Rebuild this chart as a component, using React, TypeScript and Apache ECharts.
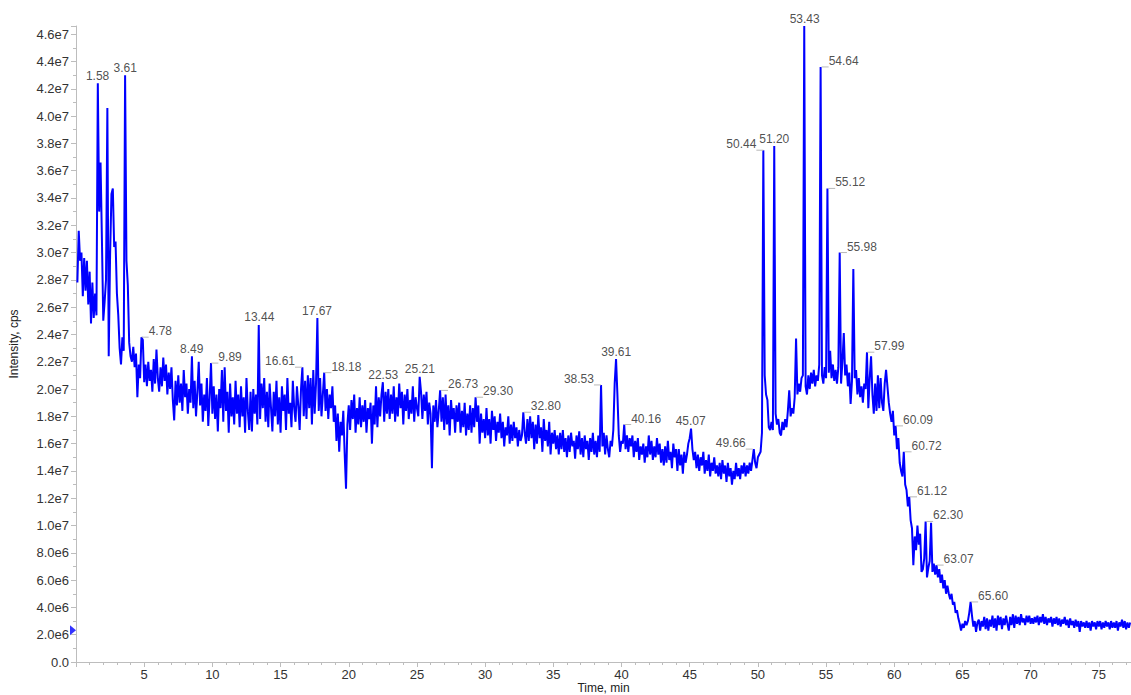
import { useEffect, useRef } from "react";
import * as echarts from "echarts";

// Sampling of the trace (minutes)
const T0 = 0.1;
const DT = 0.1;

// Intensity in units of 1e6 cps, one row per minute (10 samples)
const seg00 = [
  27.8, 31.6, 29.4, 30.0, 26.8, 29.6, 27.2, 29.4, 26.2, 28.6,
  24.8, 27.8, 25.2, 27.0, 25.4, 42.4, 33.0, 36.6, 31.0, 25.0,
  26.4, 28.0, 40.6, 22.4, 29.8, 34.3, 34.7, 30.4, 30.8, 27.0,
  25.4, 23.0, 21.8, 23.8, 22.8, 43.0, 29.4, 27.6, 23.4, 22.4,
  22.0, 23.1, 21.6, 22.6, 19.4, 21.8, 20.8, 23.8, 23.6, 20.5,
  21.8, 20.2, 22.0, 20.6, 21.4, 19.8, 22.2, 20.4, 22.9, 20.8,
  19.8, 21.6, 20.2, 22.3, 20.6, 21.8, 19.6, 21.2, 20.0, 21.6,
  19.2, 17.7, 20.6, 18.8, 21.0, 19.0, 20.4, 18.4, 21.4, 19.4,
  20.4, 18.2, 20.0, 19.0, 22.4, 18.6, 20.6, 18.0, 19.8, 22.0,
  18.8, 20.4, 17.6, 19.6, 18.4, 20.8, 17.3, 19.4, 21.9, 18.2,
];
const seg10 = [
  20.2, 17.8, 19.6, 16.9, 20.0, 18.6, 21.4, 17.6, 21.6, 18.4,
  19.8, 16.8, 20.4, 18.0, 19.4, 17.4, 20.6, 18.2, 19.6, 17.2,
  20.2, 18.0, 19.4, 16.8, 20.8, 18.4, 17.0, 19.8, 16.9, 20.0,
  18.2, 19.6, 17.4, 24.7, 17.8, 20.4, 18.6, 20.8, 17.6, 19.8,
  17.2, 20.4, 18.6, 16.9, 19.8, 18.0, 20.6, 17.4, 19.4, 16.8,
  20.2, 18.4, 19.6, 17.0, 20.8, 18.2, 19.0, 17.2, 20.6, 18.6,
  17.6, 20.2, 18.8, 17.0, 20.0, 21.6, 18.0, 20.6, 17.8, 21.0,
  18.6, 20.8, 17.4, 21.4, 18.2, 20.4, 25.2, 18.4, 20.8, 18.0,
  19.6, 21.2, 18.4, 20.0, 17.8, 19.6, 18.6, 20.2, 17.6, 18.8,
  16.2, 18.2, 15.4, 17.6, 16.6, 18.4, 15.3, 12.7, 17.4, 18.8,
];
const seg20 = [
  17.0, 19.2, 17.8, 19.6, 16.8, 18.6, 17.4, 19.4, 17.2, 18.8,
  17.6, 19.2, 16.8, 18.6, 17.8, 19.0, 16.0, 18.8, 17.4, 20.2,
  17.2, 19.4, 18.0, 19.6, 20.5, 17.6, 19.8, 18.2, 20.0, 17.8,
  19.6, 18.2, 20.2, 17.6, 19.4, 18.0, 20.4, 18.6, 19.8, 17.4,
  19.6, 18.4, 20.0, 17.8, 19.2, 18.2, 20.2, 17.6, 19.4, 18.6,
  18.0, 20.9, 19.8, 17.8, 19.6, 18.4, 19.8, 17.4, 19.0, 18.2,
  14.2, 18.8, 17.6, 19.2, 17.2, 18.4, 19.9, 17.6, 19.4, 17.0,
  19.6, 17.4, 18.8, 16.6, 19.2, 17.8, 18.6, 16.8, 18.8, 17.6,
  19.0, 16.8, 18.4, 17.2, 19.0, 16.6, 18.2, 17.0, 18.8, 16.8,
  18.6, 17.2, 19.4, 17.6, 18.8, 16.0, 18.2, 16.8, 17.8, 16.4,
];
const seg30 = [
  18.6, 16.6, 17.8, 16.0, 18.4, 17.0, 18.0, 16.2, 17.6, 16.8,
  18.2, 16.4, 17.6, 15.8, 17.2, 16.6, 18.0, 16.0, 17.4, 16.2,
  17.6, 16.4, 17.2, 15.8, 17.0, 16.2, 16.6, 18.3, 16.8, 16.0,
  17.8, 16.2, 18.0, 16.4, 17.6, 15.6, 17.4, 16.0, 18.1, 16.4,
  17.2, 15.4, 17.8, 16.2, 17.0, 15.8, 17.6, 15.2, 16.8, 16.0,
  17.0, 15.6, 16.6, 15.2, 16.8, 15.6, 17.0, 15.4, 16.4, 15.0,
  16.6, 15.4, 16.8, 15.8, 16.2, 14.9, 16.6, 15.6, 16.9, 15.2,
  16.4, 15.0, 16.6, 15.6, 16.2, 14.8, 16.4, 15.4, 16.8, 15.2,
  16.2, 15.0, 16.6, 15.4, 20.3, 15.8, 16.8, 15.2, 16.6, 15.6,
  15.0, 16.2, 15.8, 17.0, 20.4, 22.2, 19.6, 16.6, 15.4, 16.2,
];
const seg40 = [
  16.0, 17.4, 15.6, 16.6, 15.4, 16.4, 15.8, 16.6, 15.0, 16.2,
  15.4, 16.4, 14.8, 15.8, 15.2, 16.0, 14.6, 15.8, 15.0, 16.6,
  15.2, 16.2, 14.8, 15.8, 15.0, 16.4, 15.2, 16.0, 14.6, 15.6,
  14.4, 15.8, 14.6, 16.2, 14.8, 15.4, 14.2, 16.0, 15.0, 15.6,
  14.0, 15.6, 14.4, 15.2, 13.8, 15.4, 14.6, 15.2, 16.0, 16.4,
  17.1, 15.6, 14.8, 15.4, 14.2, 15.2, 14.0, 15.0, 14.4, 15.4,
  13.8, 14.8, 14.0, 15.2, 13.6, 14.6, 14.0, 15.0, 13.8, 14.4,
  13.6, 14.6, 13.4, 14.8, 13.8, 14.4, 13.2, 14.6, 13.6, 14.2,
  13.0, 14.0, 13.4, 14.6, 13.6, 14.2, 13.4, 14.4, 13.8, 14.6,
  13.6, 14.4, 13.8, 14.6, 14.0, 14.8, 15.6, 14.6, 14.2, 15.0,
];
const seg50 = [
  15.2, 15.4, 16.8, 37.5, 21.0, 19.6, 19.2, 17.2, 17.0, 17.6,
  17.0, 37.8, 18.2, 17.4, 17.8, 16.8, 16.6, 17.6, 17.0, 17.8,
  17.2, 18.4, 19.9, 18.0, 18.6, 18.2, 19.4, 23.7, 19.6, 20.4,
  19.8, 20.8, 21.0, 46.6, 20.2, 19.6, 21.0, 20.0, 21.2, 20.4,
  21.4, 20.2, 21.0, 20.6, 21.8, 43.6, 21.0, 20.4, 21.6, 20.8,
  34.7, 21.2, 22.8, 20.8, 21.8, 20.6, 21.4, 20.4, 21.6, 30.0,
  20.4, 22.0, 24.1, 21.0, 21.8, 20.2, 21.2, 18.9, 20.6, 28.8,
  20.8, 21.4, 19.6, 20.8, 19.4, 20.2, 19.0, 20.4, 20.0, 22.7,
  18.6, 20.8, 22.4, 19.6, 18.2, 20.4, 18.4, 21.0, 18.6, 20.8,
  19.0, 18.4, 20.4, 21.4, 20.2, 19.0, 18.2, 17.6, 18.4, 16.6,
];
const seg60 = [
  17.3, 15.6, 16.4, 14.6, 14.0, 13.6, 15.4, 13.0, 12.6, 11.4,
  12.1, 10.4, 9.8, 7.1, 9.2, 8.2, 10.0, 8.6, 9.4, 6.6,
  6.8, 7.6, 10.3, 6.2, 6.9, 7.4, 10.2, 6.6, 7.2, 6.4,
  7.1, 6.2, 6.8, 5.8, 6.4, 5.4, 6.0, 5.0, 5.6, 5.0,
  4.6, 5.0, 4.2, 4.4, 3.6, 3.8, 3.2, 2.8, 2.3, 2.8,
  2.5, 3.0, 2.7, 3.0, 3.6, 4.4, 3.4, 2.6, 3.0, 2.2,
  2.9, 3.1, 2.3, 3.0, 2.6, 3.3, 2.4, 3.2, 2.3, 3.1,
  2.6, 3.4, 2.5, 3.2, 2.3, 3.4, 2.7, 3.3, 2.4, 3.2,
  2.7, 3.4, 2.8, 2.3, 3.3, 2.7, 3.5, 2.5, 3.4, 2.8,
  3.3, 2.7, 3.5, 2.9, 3.2, 2.7, 3.4, 2.9, 3.4, 2.8,
];
const seg70 = [
  3.2, 2.8, 3.3, 2.9, 3.4, 2.7, 3.3, 2.9, 3.5, 2.8,
  3.3, 2.7, 3.2, 2.9, 3.3, 2.6, 3.2, 2.8, 3.3, 2.7,
  3.2, 2.6, 3.1, 2.8, 3.3, 2.7, 3.1, 2.5, 3.2, 2.7,
  3.0, 2.5, 3.1, 2.6, 3.0, 2.2, 3.0, 2.6, 2.9, 2.5,
  3.0, 2.5, 2.9, 2.3, 3.0, 2.6, 2.9, 2.4, 3.0, 2.6,
  3.0, 2.4, 2.9, 2.5, 3.0, 2.6, 2.9, 2.4, 3.0, 2.5,
  2.9, 2.5, 3.0, 2.3, 2.9, 2.6, 3.1, 2.5, 3.0, 2.4,
  2.9, 2.5, 2.9,
];

// Annotated peaks: retention-time label and apex intensity (1e6 cps)
const peakLabels = [
  "1.58", "3.61", "4.78", "8.49", "9.89", "13.44", "16.61", "17.67", "18.18",
  "22.53", "25.21", "26.73", "29.30", "32.80", "38.53", "39.61", "40.16",
  "45.07", "49.66", "50.44", "51.20", "53.43", "54.64", "55.12", "55.98",
  "57.99", "60.09", "60.72", "61.12", "62.30", "63.07", "65.60",
];
const peakHeights = [
  42.4, 43.0, 23.8, 22.4, 21.9, 24.7, 21.6, 25.2, 21.2,
  20.5, 20.9, 19.9, 19.4, 18.3, 20.3, 22.2, 17.4,
  17.1, 15.6, 37.5, 37.8, 46.6, 43.6, 34.7, 30.0,
  22.7, 17.3, 15.4, 12.1, 10.3, 7.1, 4.4,
];
const peakSides = [
  "top", "top", "right", "top", "right", "top", "left", "top", "right",
  "top", "top", "right", "right", "right", "left", "top", "right",
  "top", "left", "left", "top", "top", "right", "right", "right",
  "right", "right", "right", "right", "right", "right", "right",
];

// Baseline marker on the intensity axis (1e6 cps)
const baselineMarker = 2.32;

const FONT = '"Liberation Sans", Arial, Helvetica, sans-serif';
const AXIS_GRAY = "#bdbdbd";
const TEXT = "#222222";

function sciLabel(v: number): string {
  if (v === 0) return "0.0";
  const e = Math.floor(Math.log10(v) + 1e-9);
  const m = v / Math.pow(10, e);
  return m.toFixed(1) + "e" + e;
}

export default function App() {
  const ref = useRef<HTMLDivElement | null>(null);

  useEffect(() => {
    if (!ref.current) return;
    const chart = echarts.init(ref.current, undefined, { renderer: "svg" });

    const intensity = [...seg00, ...seg10, ...seg20, ...seg30, ...seg40, ...seg50, ...seg60, ...seg70];
    const trace = intensity.map((v, i) => [Math.round((T0 + i * DT) * 100) / 100, v * 1e6]);

    const labelData = peakLabels.map((lab, i) => {
      const side = peakSides[i];
      return {
        value: [parseFloat(lab), peakHeights[i] * 1e6],
        label: {
          show: true,
          formatter: lab,
          position: side,
          distance: side === "top" ? 1 : 7,
          offset: side === "top" ? [0, 0] : [0, -6],
          color: TEXT,
          fontSize: 12,
          fontFamily: FONT,
          textBorderWidth: 0,
        },
        labelLine: {
          show: side !== "top",
          lineStyle: { color: "#b8b8b8", width: 1 },
        },
      };
    });

    chart.setOption({
      animation: false,
      backgroundColor: "#ffffff",
      grid: {
        left: 76,
        right: -36,
        top: 26,
        bottom: 33,
        containLabel: false,
        outerBoundsMode: "none",
      },
      xAxis: {
        type: "value",
        min: 0,
        max: 80,
        interval: 5,
        name: "Time, min",
        nameLocation: "middle",
        nameGap: 20,
        nameMoveOverlap: false,
        nameTextStyle: {
          color: TEXT,
          fontSize: 12,
          lineHeight: 12,
          fontFamily: FONT,
          padding: [0, 36, 0, 0],
        },
        axisLine: { show: true, onZero: false, lineStyle: { color: AXIS_GRAY, width: 1 } },
        axisTick: { show: true, length: 5, lineStyle: { color: AXIS_GRAY } },
        minorTick: { show: true, splitNumber: 5, length: 3, lineStyle: { color: AXIS_GRAY } },
        axisLabel: {
          color: "#333",
          fontSize: 13,
          lineHeight: 13,
          fontFamily: FONT,
          margin: 6,
          showMinLabel: false,
          showMaxLabel: false,
          formatter: (v: number) => (v > 0 && v <= 75 ? String(v) : ""),
        },
        splitLine: { show: false },
        minorSplitLine: { show: false },
      },
      yAxis: {
        type: "value",
        min: 0,
        max: 46.6e6,
        interval: 2e6,
        name: "Intensity, cps",
        nameLocation: "middle",
        nameGap: 56,
        nameRotate: 90,
        nameMoveOverlap: false,
        nameTextStyle: { color: TEXT, fontSize: 12, fontFamily: FONT },
        axisLine: { show: true, onZero: false, lineStyle: { color: AXIS_GRAY, width: 1 } },
        axisTick: { show: true, length: 5, lineStyle: { color: AXIS_GRAY } },
        minorTick: { show: true, splitNumber: 2, length: 3, lineStyle: { color: AXIS_GRAY } },
        axisLabel: {
          color: "#333",
          fontSize: 13,
          fontFamily: FONT,
          margin: 7,
          showMaxLabel: false,
          formatter: (v: number) => sciLabel(v),
        },
        splitLine: { show: false },
        minorSplitLine: { show: false },
      },
      series: [
        {
          type: "line",
          data: trace,
          showSymbol: false,
          symbol: "none",
          clip: false,
          silent: true,
          lineStyle: { color: "#0000ff", width: 2 },
          itemStyle: { color: "#0000ff" },
          z: 3,
        },
        {
          type: "scatter",
          data: labelData,
          symbol: "circle",
          symbolSize: 1,
          clip: false,
          silent: true,
          itemStyle: { color: "rgba(0,0,0,0)" },
          z: 5,
        },
        {
          type: "scatter",
          data: [[0, baselineMarker * 1e6]],
          symbol: "path://M0,0 L6,5 L0,10 Z",
          symbolSize: [6, 10],
          symbolOffset: [-3, 0],
          clip: false,
          silent: true,
          itemStyle: { color: "#0000ff" },
          z: 6,
        },
      ],
    });

    return () => {
      chart.dispose();
    };
  }, []);

  return (
    <div
      ref={ref}
      style={{ position: "fixed", left: 0, top: 0, width: 1131, height: 695, background: "#fff" }}
    />
  );
}
